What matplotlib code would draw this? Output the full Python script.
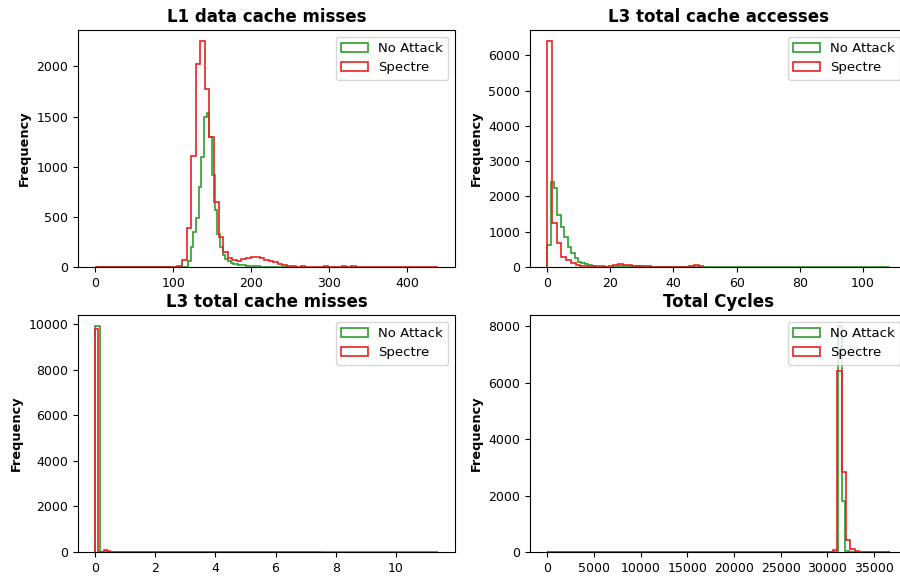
import numpy as np
import matplotlib
matplotlib.use("Agg")
import matplotlib.pyplot as plt
from matplotlib.ticker import MultipleLocator

# histogram counts per bin
# L1 data cache misses (range 0..439 for Spectre, 0..255 for No Attack)
L1_RANGE = {"No Attack": 255, "Spectre": 439}
l1_noattack = [0] * 35 + [60, 200, 350, 490, 800, 1100, 1500, 1540, 1300, 920, 570, 330,
                          200, 120, 80, 55, 40, 30, 25, 20, 15, 15, 12, 10, 10, 8, 5, 4,
                          3, 2, 2] + [0] * 8 + [1]
l1_spectre = [0] * 18 + [10, 70, 390, 1110, 2020, 2250, 1770, 1300, 650, 300, 150, 90, 70,
                         60, 75, 90, 100, 95, 85, 70, 60, 45, 30, 20, 10, 5, 3, 5, 0, 0,
                         0, 0, 8, 0, 3, 0, 5, 0, 6, 4] + [0] * 16 + [1]

# L3 total cache accesses
L3A_RANGE = {"No Attack": 108.5, "Spectre": 49.5}
l3a_noattack = [620, 2400, 2230, 1470, 1140, 860, 575, 390, 250, 150, 110, 80, 55, 40, 30,
                20, 15, 10, 8, 6, 5, 25, 35, 40, 35, 30, 20, 15, 10, 8, 6, 5, 4, 3, 2,
                1] + [0] * 63 + [1]
l3a_spectre = [6400, 1245, 680, 290, 200, 100, 60, 40, 25, 15, 10, 5, 3, 30, 60, 75, 70,
               55, 40, 30, 20, 15, 10, 8, 5, 5, 3, 0, 0, 0, 40, 50, 30]

# L3 total cache misses
L3M_RANGE = {"No Attack": 11.4, "Spectre": 7.5}
l3m_noattack = [9920, 0, 10, 5] + [0] * 70 + [1]
l3m_spectre = [9780, 0, 0, 80, 40, 0, 0, 20] + [0] * 66 + [1]

# Total cycles
CYC_RANGE = {"No Attack": 36700, "Spectre": 36700}
cyc_noattack = [0] * 85 + [8000, 1800, 30] + [0] * 11 + [1]
cyc_spectre = [0] * 65 + [60, 6410, 2845, 430, 100, 30] + [0] * 6 + [1]

TITLES = ["L1 data cache misses", "L3 total cache accesses",
          "L3 total cache misses", "Total Cycles"]
COLORS = {"No Attack": "#2ca02c", "Spectre": "#e8231f"}
Y_STEPS = [500, 1000, 2000, 2000]

panels = [
    (l1_noattack, l1_spectre, L1_RANGE),
    (l3a_noattack, l3a_spectre, L3A_RANGE),
    (l3m_noattack, l3m_spectre, L3M_RANGE),
    (cyc_noattack, cyc_spectre, CYC_RANGE),
]

W, H = 900, 577
fig = plt.figure(figsize=(W / 100, H / 100), dpi=100)

# axes boxes in pixels (left, top, width, height); right column runs past the edge
boxes = [(78, 30, 377, 237), (530, 30, 377, 237),
         (78, 315, 377, 237), (530, 315, 377, 237)]

for (noatk, spec, rng), title, (l, t, w, h), ystep in zip(panels, TITLES, boxes, Y_STEPS):
    ax = fig.add_axes([l / W, 1 - (t + h) / H, w / W, h / H])
    for name, counts in [("No Attack", noatk), ("Spectre", spec)]:
        counts = np.asarray(counts, dtype=float)
        edges = np.linspace(0, rng[name], len(counts) + 1)
        ax.hist(edges[:-1], bins=edges, weights=counts, histtype="step",
                color=COLORS[name], linewidth=1.2, label=name)
    ax.yaxis.set_major_locator(MultipleLocator(ystep))
    ax.set_title(title, fontsize=12, fontweight="bold")
    ax.set_ylabel("Frequency", fontsize=9.3, fontweight="bold")
    ax.tick_params(labelsize=9)
    ax.legend(loc="upper right", fontsize=9.5)

fig.savefig("out.png", dpi=100)
